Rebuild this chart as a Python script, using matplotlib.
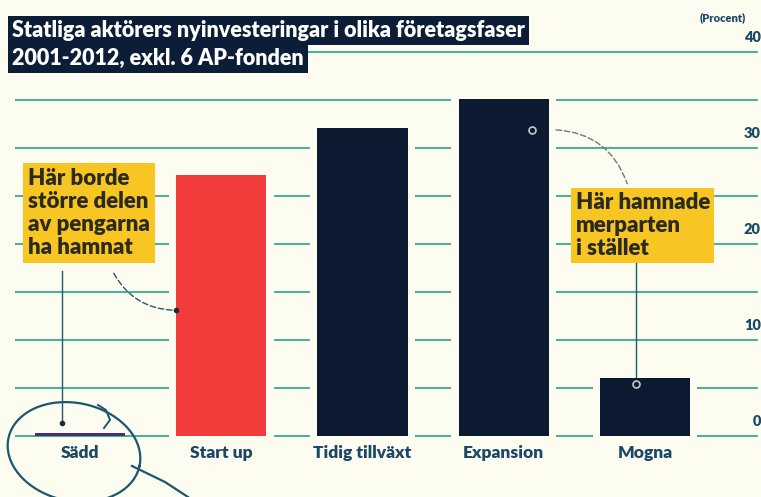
import numpy as np
import matplotlib
matplotlib.use("Agg")
import matplotlib.pyplot as plt

# data (procent)
faser = ["Sädd", "Start up", "Tidig tillväxt", "Expansion", "Mogna"]
andel = [0.3, 27.2, 32.1, 35.1, 6.0]
farger = ["#4a2d6e", "#f23b3b", "#0b1a31", "#0b1a31", "#0b1a31"]
yticks = [0, 10, 20, 30, 40]
gridlinjer = [0, 5, 10, 15, 20, 25, 30, 35, 40]

bakgrund = "#fdfcf1"
gron = "#45b096"
bla_text = "#1b4866"
gul = "#f8c623"

plt.rcParams["font.family"] = ["Lato", "DejaVu Sans"]
tjock = "heavy"

fig = plt.figure(figsize=(7.61, 4.97), dpi=100)
fig.patch.set_facecolor(bakgrund)
ax = fig.add_axes([0, 0, 1, 1])
ax.set_facecolor(bakgrund)
ax.axis("off")

# en kategori = 141.25 px, en procentenhet = 9.6 px
ax.set_xlim(-80 / 141.25, (761 - 80) / 141.25)
ax.set_ylim(-61 / 9.6, 436 / 9.6)

x = np.arange(len(faser))
bredd = 0.64

# stödlinjer
ax.hlines(gridlinjer, -0.46, 4.8, color=gron, lw=1.4, zorder=1)
# luckor i stödlinjerna runt staplarna
for xi, v in zip(x, andel):
    if v > 1:
        ax.bar(xi, v + 0.6, width=bredd + 0.1, bottom=-0.3, color=bakgrund, zorder=2)
ax.bar(x, andel, width=bredd, color=farger, zorder=3)

for xi, namn in zip(x, faser):
    ax.text(xi, -1.8, namn, ha="center", va="center", fontsize=12.5,
            fontweight=tjock, color=bla_text)

for t in yticks:
    ax.text(4.82, t + 1.5, str(t), ha="right", va="center", fontsize=10.5,
            fontweight=tjock, color=bla_text)
ax.text(4.55, 43.6, "(Procent)", ha="center", va="center", fontsize=8,
        fontweight=tjock, color=bla_text)

# rubrik
fig.text(0.016, 0.938, "Statliga aktörers nyinvesteringar i olika företagsfaser",
         ha="left", va="center", fontsize=15.5, fontweight=tjock, color="white",
         bbox=dict(boxstyle="square,pad=0.18", fc="#0c1d38", ec="none"))
fig.text(0.016, 0.882, "2001-2012, exkl. 6 AP-fonden",
         ha="left", va="center", fontsize=15.5, fontweight=tjock, color="white",
         bbox=dict(boxstyle="square,pad=0.18", fc="#0c1d38", ec="none"))

linjefarg = "#1f5a6a"

# vänster kommentar
ax.text(-0.37, 27.9, "Här borde\nstörre delen\nav pengarna\nha hamnat",
        ha="left", va="top", fontsize=16, fontweight=tjock, color="#2b2a1f",
        linespacing=1.12, zorder=5,
        bbox=dict(boxstyle="square,pad=0.22", fc=gul, ec="none"))
ax.plot([-0.127, -0.127], [17.2, 1.4], color=linjefarg, lw=1, zorder=4)
ax.plot(-0.127, 1.4, "o", color="#1a2a3a", ms=3, zorder=4)
start_kant = x[1] - bredd / 2
ax.annotate("", xy=(start_kant, 13.1), xytext=(0.23, 17.2),
            arrowprops=dict(arrowstyle="-", color=linjefarg, lw=1, ls=(0, (4, 2)),
                            connectionstyle="arc3,rad=0.3"), zorder=4)
ax.plot(start_kant, 13.1, "o", color="#1a2a3a", ms=3, zorder=5)

# höger kommentar
ax.text(3.51, 25.4, "Här hamnade\nmerparten\ni stället",
        ha="left", va="top", fontsize=16, fontweight=tjock, color="#2b2a1f",
        linespacing=1.1, zorder=5,
        bbox=dict(boxstyle="square,pad=0.2", fc=gul, ec="none"))
ax.plot([3.935, 3.935], [18.0, andel[4] - 0.6], color=linjefarg, lw=1, zorder=2)
ax.plot(3.935, andel[4] - 0.6, "o", mfc="#0b1a31", mec="#c8c8c8", mew=1.2, ms=5, zorder=5)
exp_punkt = (x[3] + 0.2, andel[3] - 3.2)
ax.plot(*exp_punkt, "o", mfc="#0b1a31", mec="#c8c8c8", mew=1.2, ms=5, zorder=5)
ax.annotate("", xy=(3.88, 26.0), xytext=(exp_punkt[0] + 0.15, exp_punkt[1]),
            arrowprops=dict(arrowstyle="-", color="#6a7a80", lw=1, ls=(0, (4, 2)),
                            connectionstyle="arc3,rad=-0.35"), zorder=4)

# handritad ring runt Sädd
t = np.linspace(0, 2 * np.pi, 200)
vinkel = np.deg2rad(12)
ex = 67 * np.cos(t)
ey = 49 * np.sin(t)
px = 74 + ex * np.cos(vinkel) + ey * np.sin(vinkel)
py = 452 - (ey * np.cos(vinkel) - ex * np.sin(vinkel))
ax.plot((px - 80) / 141.25, (436 - py) / 9.6, color="#1d5670", lw=1.6, zorder=6)
ax.plot((np.array([132, 165, 188]) - 80) / 141.25, (436 - np.array([466, 482, 497])) / 9.6,
        color="#1d5670", lw=1.6, zorder=6)
ax.plot((np.array([98, 106, 110, 104]) - 80) / 141.25, (436 - np.array([405, 410, 420, 428])) / 9.6,
        color="#1d5670", lw=1.4, zorder=6)

fig.savefig("out.png", dpi=100, facecolor=fig.get_facecolor())
